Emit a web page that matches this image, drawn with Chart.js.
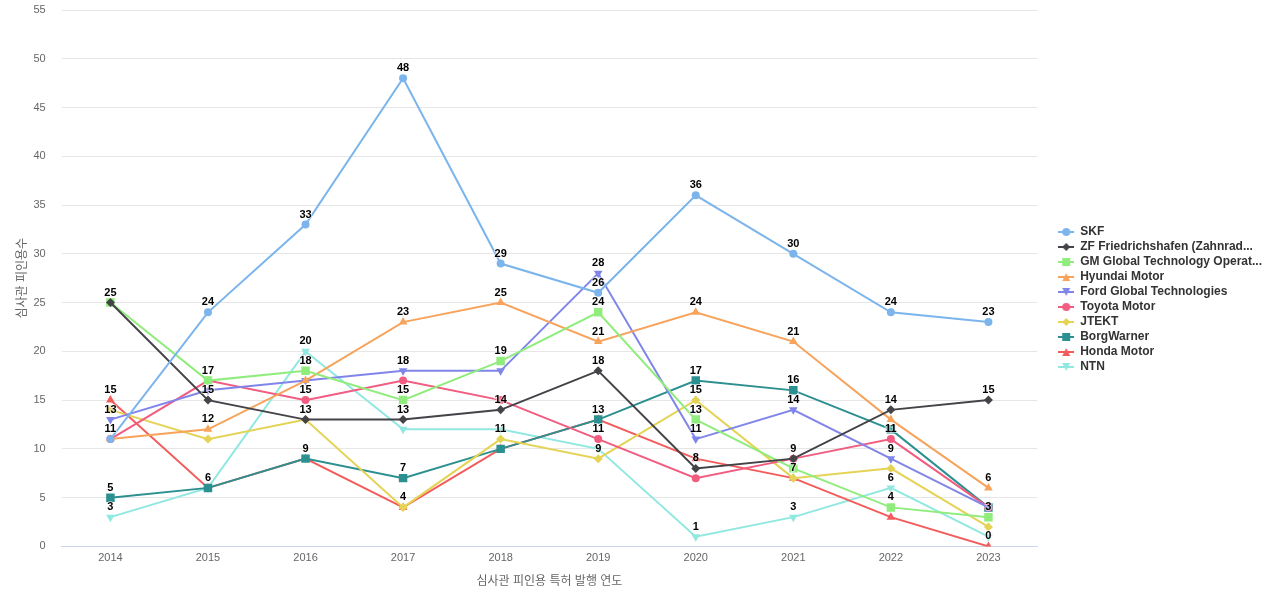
<!DOCTYPE html>
<html>
<head>
<meta charset="utf-8">
<script src="https://cdn.jsdelivr.net/npm/chart.js@4.4.1/dist/chart.umd.min.js"></script>
<style>
  html, body { margin: 0; padding: 0; background: #fff; }
  #wrap { width: 1280px; height: 600px; }
</style>
</head>
<body>
<div id="wrap"><canvas id="chart"></canvas></div>
<script>
/* ── Data ─────────────────────────────── */
const years = ['2014', '2015', '2016', '2017', '2018', '2019', '2020', '2021', '2022', '2023'];

const skf       = [11, 24, 33, 48, 29, 26, 36, 30, 24, 23];
const zf        = [25, 15, 13, 13, 14, 18, 8, 9, 14, 15];
const gm        = [25, 17, 18, 15, 19, 24, 13, 8, 4, 3];
const hyundai   = [11, 12, 17, 23, 25, 21, 24, 21, 13, 6];
const ford      = [13, 16, 17, 18, 18, 28, 11, 14, 9, 4];
const toyota    = [11, 17, 15, 17, 15, 11, 7, 9, 11, 4];
const jtekt     = [14, 11, 13, 4, 11, 9, 15, 7, 8, 2];
const borg      = [5, 6, 9, 7, 10, 13, 17, 16, 12, 4];
const honda     = [15, 6, 9, 4, 10, 13, 9, 7, 3, 0];
const ntn       = [3, 6, 20, 12, 12, 10, 1, 3, 6, 1];

const seriesNames = [
  'SKF', 'ZF Friedrichshafen (Zahnrad...', 'GM Global Technology Operat...',
  'Hyundai Motor', 'Ford Global Technologies', 'Toyota Motor', 'JTEKT',
  'BorgWarner', 'Honda Motor', 'NTN'
];
const seriesData = [skf, zf, gm, hyundai, ford, toyota, jtekt, borg, honda, ntn];

const colors = ['#7cb5ec', '#434348', '#90ed7d', '#f7a35c', '#8085e9',
                '#f15c80', '#e4d354', '#2b908f', '#f45b5b', '#91e8e1'];
const markers = ['circle', 'rectRot', 'rect', 'triangle', 'triangleDown',
                 'circle', 'rectRot', 'rect', 'triangle', 'triangleDown'];

const FONT = '"Liberation Sans", Arial, "Noto Sans CJK KR", sans-serif';
const LEGEND_GAP = 18;

/* ── Marker helpers ───────────────────── */
function chartStyle(m) {
  if (m === 'triangleDown') return { style: 'triangle', rot: 180, r: 5 };
  if (m === 'rect') return { style: 'rect', rot: 0, r: 6 };
  if (m === 'rectRot') return { style: 'rectRot', rot: 0, r: 4.5 };
  if (m === 'triangle') return { style: 'triangle', rot: 0, r: 5 };
  return { style: 'circle', rot: 0, r: 4 };
}

function legendIcon(color, m) {
  const c = document.createElement('canvas');
  c.width = 16; c.height = 12;
  const g = c.getContext('2d');
  g.strokeStyle = color; g.lineWidth = 2;
  g.beginPath(); g.moveTo(0, 6); g.lineTo(16, 6); g.stroke();
  g.fillStyle = color;
  g.beginPath();
  if (m === 'circle') g.arc(8, 6, 4, 0, Math.PI * 2);
  else if (m === 'rect') g.rect(4, 2, 8, 8);
  else if (m === 'rectRot') { g.moveTo(8, 2); g.lineTo(12, 6); g.lineTo(8, 10); g.lineTo(4, 6); }
  else if (m === 'triangle') { g.moveTo(8, 2); g.lineTo(12, 10); g.lineTo(4, 10); }
  else { g.moveTo(4, 2); g.lineTo(12, 2); g.lineTo(8, 10); }
  g.closePath(); g.fill();
  return c;
}

const datasets = seriesData.map((d, i) => {
  const s = chartStyle(markers[i]);
  return {
    label: seriesNames[i],
    data: d,
    borderColor: colors[i],
    backgroundColor: colors[i],
    borderWidth: 2,
    pointStyle: s.style,
    rotation: s.rot,
    pointRadius: s.r,
    pointHoverRadius: s.r,
    pointBorderWidth: 0,
    tension: 0
  };
});
const icons = seriesData.map((d, i) => legendIcon(colors[i], markers[i]));

/* ── Value labels with overlap hiding ─── */
const valueLabels = {
  id: 'valueLabels',
  afterDatasetsDraw(chart) {
    const ctx = chart.ctx;
    ctx.save();
    ctx.font = 'bold 11px ' + FONT;
    ctx.textAlign = 'center';
    ctx.textBaseline = 'middle';
    const boxes = [];
    chart.data.datasets.forEach((ds, di) => {
      const meta = chart.getDatasetMeta(di);
      meta.data.forEach((pt, pi) => {
        const txt = String(ds.data[pi]);
        const w = ctx.measureText(txt).width + 4;
        const h = 14;
        const cx = pt.x, cy = pt.y - 10;
        const box = { l: cx - w / 2, r: cx + w / 2, t: cy - h / 2, b: cy + h / 2 };
        const hit = boxes.some(b => !(box.r < b.l || box.l > b.r || box.b < b.t || box.t > b.b));
        if (hit) return;
        boxes.push(box);
        ctx.lineWidth = 2;
        ctx.strokeStyle = 'rgba(255,255,255,0.5)';
        ctx.strokeText(txt, cx, cy);
        ctx.fillStyle = '#000';
        ctx.fillText(txt, cx, cy);
      });
    });
    ctx.restore();
  }
};

/* ── Extra gap left of the legend ─────── */
const legendGap = {
  id: 'legendGap',
  afterInit(chart) {
    const lg = chart.legend;
    if (!lg) return;
    const fit = lg.fit.bind(lg);
    lg.fit = function () { fit(); this.width += LEGEND_GAP; };
  },
  afterLayout(chart) {
    if (chart.legend) chart.legend.left += LEGEND_GAP;
  }
};

new Chart(document.getElementById('chart'), {
  type: 'line',
  data: { labels: years, datasets },
  plugins: [valueLabels, legendGap],
  options: {
    responsive: true,
    maintainAspectRatio: false,
    animation: false,
    layout: { padding: { top: 10, right: 8, bottom: 11, left: 10 } },
    plugins: {
      tooltip: { enabled: false },
      legend: {
        position: 'right',
        align: 'center',
        labels: {
          usePointStyle: true,
          pointStyleWidth: 16,
          padding: 3,
          color: '#333333',
          font: { family: FONT, size: 12, weight: 'bold' },
          generateLabels(chart) {
            const items = Chart.defaults.plugins.legend.labels.generateLabels(chart);
            items.forEach((it, i) => { it.pointStyle = icons[i]; it.rotation = 0; });
            return items;
          }
        }
      }
    },
    scales: {
      x: {
        offset: true,
        grid: { display: false, drawTicks: false },
        border: { color: '#ccd6eb', width: 1 },
        ticks: { color: '#666666', font: { family: FONT, size: 11 }, padding: 5 },
        title: {
          display: true,
          text: '심사관 피인용 특허 발행 연도',
          color: '#666666',
          font: { family: FONT, size: 12 },
          padding: { top: 5, bottom: 0 }
        }
      },
      y: {
        min: 0,
        max: 55,
        afterFit(s) { s.paddingTop = 0; s.paddingBottom = 0; },
        ticks: { stepSize: 5, color: '#666666', font: { family: FONT, size: 11 }, padding: 16 },
        grid: { color: '#e6e6e6', drawTicks: false },
        border: { display: false },
        title: {
          display: true,
          text: '심사관 피인용수',
          color: '#666666',
          font: { family: FONT, size: 12 },
          padding: { top: 5, bottom: -12 }
        }
      }
    }
  }
});
</script>
</body>
</html>
